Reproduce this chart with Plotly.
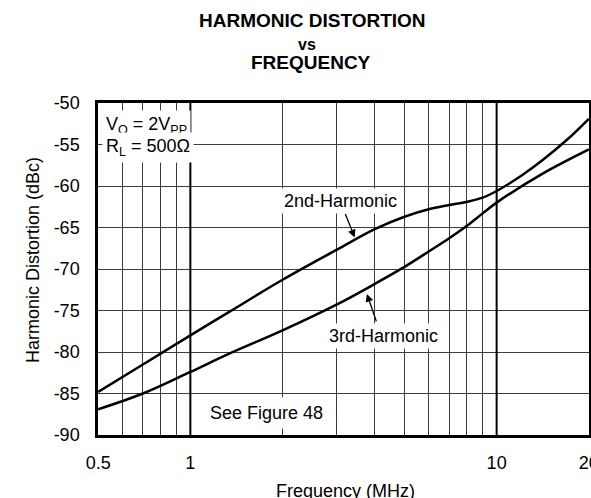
import math
import plotly.graph_objects as go

# Frequency points (MHz) and measured distortion (dBc)
freq_2nd = [0.5, 0.7, 1.0, 1.335, 2.0, 3.0, 4.0, 5.0, 6.0, 7.0, 8.0, 9.0, 10.0,
            12.0, 14.0, 17.0, 20.0]
hd2_dbc = [-84.8, -81.5, -78.0, -75.2, -71.3, -67.7, -65.2, -63.7, -62.8, -62.3,
           -61.9, -61.4, -60.6, -58.8, -57.0, -54.4, -51.9]

freq_3rd = [0.5, 0.7, 1.0, 1.34, 2.0, 3.0, 4.0, 5.0, 6.0, 7.0, 8.0, 9.0, 10.0,
            14.0, 20.0]
hd3_dbc = [-86.9, -85.0, -82.4, -80.2, -77.4, -74.3, -71.8, -69.75, -67.9, -66.3,
           -64.8, -63.3, -62.0, -58.6, -55.6]

x_grid = [0.5, 0.6, 0.7, 0.8, 0.9, 1, 2, 3, 4, 5, 6, 7, 8, 9, 10, 20]
x_labels = {0.5: "0.5", 1: "1", 10: "10", 20: "20"}
y_ticks = [-50, -55, -60, -65, -70, -75, -80, -85, -90]
y_labels = ["-50", "-55", "-60", "-65", "-70", "-75", "-80", "-85", "-90"]
decade_lines = [1, 10]

FONT = "Liberation Sans, Arial, Helvetica, sans-serif"
GRID = "#3c3c3c"


def lx(f):
    return math.log10(f)


fig = go.Figure()
fig.add_trace(go.Scatter(x=freq_2nd, y=hd2_dbc, mode="lines",
                         line=dict(color="black", width=2.5, shape="spline", smoothing=1.0),
                         name="2nd-Harmonic", showlegend=False, hoverinfo="skip"))
fig.add_trace(go.Scatter(x=freq_3rd, y=hd3_dbc, mode="lines",
                         line=dict(color="black", width=2.5, shape="spline", smoothing=1.0),
                         name="3rd-Harmonic", showlegend=False, hoverinfo="skip"))

# heavier rules at the decade boundaries
for f in decade_lines:
    fig.add_shape(type="line", xref="x", yref="y domain", x0=f, x1=f, y0=0, y1=1,
                  line=dict(color="black", width=2), layer="above")

ann = []
# title block
ann.append(dict(text="<b>HARMONIC DISTORTION</b>", xref="paper", yref="paper",
                x=0.4369, y=1.2485, xanchor="center", yanchor="middle",
                showarrow=False, font=dict(size=19)))
ann.append(dict(text="<b>vs</b>", xref="paper", yref="paper",
                x=0.4257, y=1.176, xanchor="center", yanchor="middle",
                showarrow=False, font=dict(size=16)))
ann.append(dict(text="<b>FREQUENCY</b>", xref="paper", yref="paper",
                x=0.4334, y=1.122, xanchor="center", yanchor="middle",
                showarrow=False, font=dict(size=19)))
# axis titles
ann.append(dict(text="Frequency (MHz)", xref="paper", yref="paper",
                x=0.5045, y=-0.170, xanchor="center", yanchor="middle",
                showarrow=False, font=dict(size=18)))
ann.append(dict(text="Harmonic Distortion (dBc)", xref="paper", yref="paper",
                x=-0.1324, y=0.527, xanchor="center", yanchor="middle",
                showarrow=False, textangle=-90, font=dict(size=18)))
# in-plot notes
ann.append(dict(text="V<sub>O</sub> = 2V<sub>PP</sub>", xref="paper", yref="paper",
                x=0.008, y=0.933, xanchor="left", yanchor="middle", showarrow=False,
                bgcolor="white", borderpad=3, font=dict(size=18)))
ann.append(dict(text="R<sub>L</sub> = 500Ω", xref="paper", yref="paper",
                x=0.008, y=0.866, xanchor="left", yanchor="middle", showarrow=False,
                bgcolor="white", borderpad=3, font=dict(size=18)))
ann.append(dict(text="2nd-Harmonic", x=lx(3.09), y=-61.8, showarrow=False,
                xanchor="center", yanchor="middle",
                bgcolor="white", borderpad=2, font=dict(size=18)))
ann.append(dict(text="3rd-Harmonic", x=lx(4.26), y=-78.1, showarrow=False,
                xanchor="center", yanchor="middle",
                bgcolor="white", borderpad=2, font=dict(size=18)))
ann.append(dict(text="See Figure 48", x=lx(1.77), y=-87.3, showarrow=False,
                xanchor="center", yanchor="middle",
                bgcolor="white", borderpad=5, font=dict(size=18)))
# pointer arrows
ann.append(dict(text="", x=lx(3.44), y=-66.2, showarrow=True, ax=-10, ay=-25,
                arrowhead=2, arrowsize=1.2, arrowwidth=1.3, arrowcolor="black", standoff=0))
ann.append(dict(text="", x=lx(3.77), y=-73.0, showarrow=True, ax=10, ay=29,
                arrowhead=2, arrowsize=1.2, arrowwidth=1.3, arrowcolor="black", standoff=0))

fig.update_layout(
    width=591, height=498,
    margin=dict(l=98, r=2, t=103, b=63, autoexpand=False),
    paper_bgcolor="white", plot_bgcolor="white",
    font=dict(family=FONT, size=18, color="black"),
    annotations=ann,
    xaxis=dict(type="log", range=[lx(0.5) - 0.0005, lx(20) + 0.0005], tickvals=x_grid,
               ticktext=[x_labels.get(v, "") for v in x_grid],
               showgrid=True, gridcolor=GRID, gridwidth=1,
               showline=True, linecolor="black", linewidth=2.5, mirror=True,
               ticks="", ticklabelstandoff=10, ticklabeloverflow="allow",
               zeroline=False, automargin=False, tickfont=dict(size=18)),
    yaxis=dict(range=[-90, -50], tickvals=y_ticks, ticktext=y_labels,
               showgrid=True, gridcolor=GRID, gridwidth=1,
               showline=True, linecolor="black", linewidth=2.5, mirror=True,
               ticks="", ticklabelstandoff=12, zeroline=False, automargin=False,
               tickfont=dict(size=18)),
)

fig.write_html("out.html")
